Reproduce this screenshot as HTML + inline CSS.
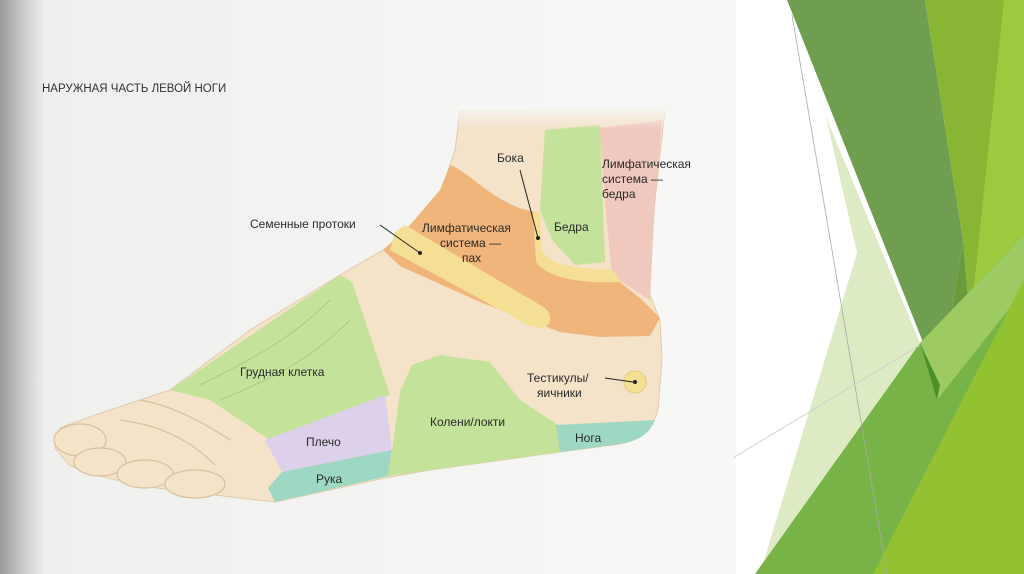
<!DOCTYPE html>
<html><head><meta charset="utf-8"><style>
html,body{margin:0;padding:0;width:1024px;height:574px;overflow:hidden;background:#fff}
svg{display:block}
text{font-family:"Liberation Sans",sans-serif;fill:#2a2a2a;font-size:12px}
</style></head><body>
<svg width="1024" height="574" viewBox="0 0 1024 574" xmlns="http://www.w3.org/2000/svg">
<defs>
<linearGradient id="lg" x1="0" x2="1" y1="0" y2="0">
<stop offset="0" stop-color="#9a9a9a"/><stop offset="0.03" stop-color="#c8c8c8"/><stop offset="0.06" stop-color="#efefed"/><stop offset="1" stop-color="#f8f8f6"/>
</linearGradient>
<linearGradient id="legfade" x1="0" x2="0" y1="0" y2="1">
<stop offset="0" stop-color="#f6f6f4"/><stop offset="1" stop-color="#f6f6f4" stop-opacity="0"/>
</linearGradient>
</defs>
<rect x="0" y="0" width="736" height="574" fill="url(#lg)"/>
<rect x="736" y="0" width="288" height="574" fill="#fff"/>
<!-- green facets -->
<polygon points="826,117 920,343 787,574 760,574 857,253" fill="#dcebc4"/>
<polygon points="787,0 925,0 963,240 940,385" fill="#6f9e50"/>
<polygon points="925,0 1004,0 975,380 963,240" fill="#88b534"/>
<polygon points="1004,0 1024,0 1024,574 950,574 960,420" fill="#9cc93f"/>
<polygon points="940,385 963,240 975,380 950,500" fill="#6a9a3c"/>
<polygon points="755,574 920,343 1024,235 1024,574" fill="#78b347"/>
<polygon points="920,343 1024,235 1024,290 937,400" fill="#a6cf6a" opacity="0.8"/>
<polygon points="873,574 1024,280 1024,574" fill="#92c131"/>
<polygon points="920,343 940,385 937,400" fill="#4f8f29"/>
<line x1="792" y1="15" x2="887" y2="574" stroke="#aaa" stroke-width="0.8"/>
<line x1="733" y1="458" x2="920" y2="345" stroke="#ccc" stroke-width="0.8"/>
<!-- title -->
<text x="42" y="92" style="font-size:11.5px;fill:#333">НАРУЖНАЯ ЧАСТЬ ЛЕВОЙ НОГИ</text>
<!-- foot skin -->
<path d="M460,110 L665,110 L655,200 L648,290 L660,320 L662,360 L658,410 C652,430 640,440 620,444 L560,452 L430,470 L385,478 L275,502 L240,498 L190,492 L140,486 L100,476 L70,466 L55,448 L60,428 L95,415 L140,400 L170,390 L250,330 L340,275 L400,240 L440,195 L455,150 Z" fill="#f4e2c9" stroke="#e3cba9" stroke-width="1"/>
<!-- toes -->
<g fill="#f4e2c9" stroke="#d9bf9c" stroke-width="1.2">
<ellipse cx="80" cy="440" rx="26" ry="16"/>
<ellipse cx="100" cy="462" rx="26" ry="14"/>
<ellipse cx="145" cy="474" rx="28" ry="14"/>
<ellipse cx="195" cy="484" rx="30" ry="14"/>
</g>
<!-- pink -->
<path d="M600,128 L662,120 L655,200 L650,300 L612,276 L605,200 Z" fill="#f0c8bd"/>
<!-- green Bedra -->
<path d="M545,130 L600,125 L605,262 L575,265 L552,240 L540,210 Z" fill="#c4e29a"/>
<rect x="450" y="105" width="222" height="25" fill="url(#legfade)"/>
<!-- orange -->
<path d="M450,165 C470,172 495,205 535,212 L537,255 C545,272 575,276 612,276 L640,298 L660,318 L650,336 L600,337 L560,332 L480,302 L400,266 L383,250 L410,225 L440,190 Z" fill="#f0b57a"/>
<!-- yellow U -->
<path d="M533,212 L540,212 L542,250 C550,266 575,268 612,270 L622,282 C580,284 548,278 536,262 Z" fill="#f5df94"/>
<!-- yellow stripe -->
<path d="M395,232 L405,225 L540,305 C555,312 552,328 540,328 L530,326 L390,250 Z" fill="#f5df94"/>
<!-- Grudnaya -->
<path d="M170,390 L340,275 L352,282 L390,395 L270,440 L210,400 Z" fill="#c4e29a"/>
<g fill="none" stroke="#a9cc7f" stroke-width="1"><path d="M200,385 C250,360 290,340 330,300"/><path d="M220,400 C270,380 310,360 350,320"/></g>
<!-- Plecho -->
<path d="M265,440 L385,395 L392,450 L282,472 Z" fill="#dcd0ea"/>
<!-- Ruka -->
<path d="M282,472 L392,450 L388,476 L275,502 L268,488 Z" fill="#9fd8c2"/>
<!-- Koleni -->
<path d="M392,452 L400,392 L412,365 L440,355 L490,362 L520,400 L558,425 L560,452 L430,470 L388,476 Z" fill="#c4e29a"/>
<!-- Noga -->
<path d="M556,425 L655,420 C650,432 642,440 620,444 L560,452 Z" fill="#9fd8c2"/>
<!-- toe lines -->
<g fill="none" stroke="#d9bf9c" stroke-width="1.2">
<path d="M140,400 C170,405 200,420 230,440"/><path d="M120,420 C160,425 190,440 215,465"/>
</g>
<!-- circle -->
<circle cx="635" cy="382" r="11" fill="#f5df94" stroke="#e5c97a"/>
<circle cx="635" cy="382" r="2" fill="#222"/>
<!-- leaders -->
<g stroke="#222" stroke-width="1"><line x1="380" y1="225" x2="420" y2="253"/><line x1="520" y1="170" x2="538" y2="238"/><line x1="605" y1="378" x2="633" y2="382"/></g>
<circle cx="420" cy="253" r="2" fill="#222"/><circle cx="538" cy="238" r="2" fill="#222"/>
<!-- labels -->
<text x="250" y="228">Семенные протоки</text>
<text x="497" y="162">Бока</text>
<text x="602" y="168">Лимфатическая</text><text x="602" y="183">система —</text><text x="602" y="198">бедра</text>
<text x="422" y="232">Лимфатическая</text><text x="440" y="247">система —</text><text x="462" y="262">пах</text>
<text x="554" y="231">Бедра</text>
<text x="240" y="376">Грудная клетка</text>
<text x="527" y="382">Тестикулы/</text><text x="537" y="397">яичники</text>
<text x="430" y="426">Колени/локти</text>
<text x="306" y="446">Плечо</text>
<text x="316" y="483">Рука</text>
<text x="575" y="442">Нога</text>
</svg>
</body></html>
